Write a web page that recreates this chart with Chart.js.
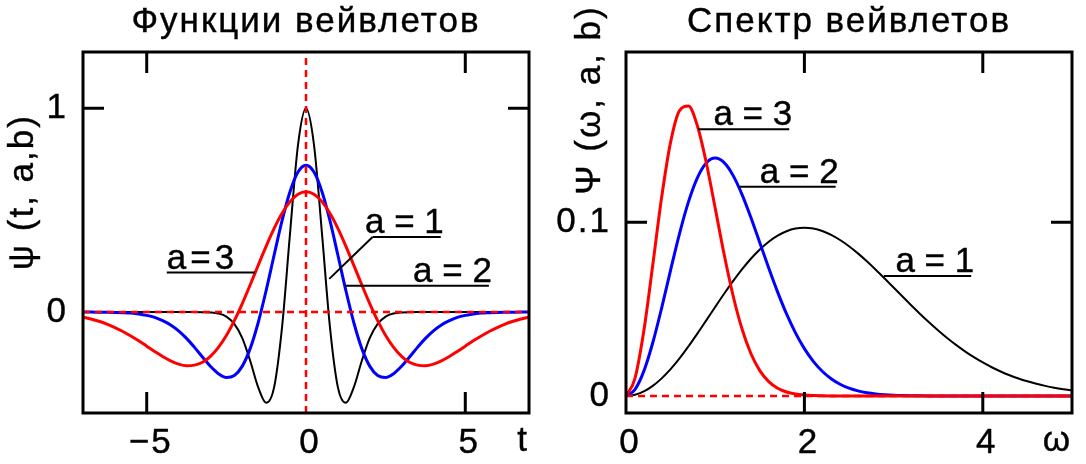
<!DOCTYPE html>
<html><head><meta charset="utf-8">
<script src="https://cdn.jsdelivr.net/npm/chart.js@4.4.1/dist/chart.umd.min.js"></script>
<style>
html,body{margin:0;padding:0;background:#fff;}
#wrap{position:relative;width:1086px;height:464px;overflow:hidden;}
.box{position:absolute;top:0;width:543px;height:464px;}
</style></head><body>
<div id="wrap">
<div class="box" style="left:0"><canvas id="c1" width="543" height="464"></canvas></div>
<div class="box" style="left:543px"><canvas id="c2" width="543" height="464"></canvas></div>
</div>
<script>
// ---------- data: wavelet functions ----------
const tValues = [-7,-6.75,-6.5,-6.25,-6,-5.75,-5.5,-5.25,-5,-4.75,-4.5,-4.25,-4,-3.75,-3.5,-3.25,-3,-2.75,-2.5,-2.25,-2,-1.75,-1.5,-1.25,-1,-0.75,-0.5,-0.25,0,0.25,0.5,0.75,1,1.25,1.5,1.75,2,2.25,2.5,2.75,3,3.25,3.5,3.75,4,4.25,4.5,4.75,5,5.25,5.5,5.75,6,6.25,6.5,6.75,7];
const psiA1 = [0,0,0,0,0,0,0,0,0,0,0,0,0,0,0,-0.0005,-0.002,-0.007,-0.022,-0.058,-0.128,-0.240,-0.369,-0.445,-0.368,-0.071,0.389,0.822,1,0.822,0.389,-0.071,-0.368,-0.445,-0.369,-0.240,-0.128,-0.058,-0.022,-0.007,-0.002,-0.0005,0,0,0,0,0,0,0,0,0,0,0,0,0,0,0];
const psiA2 = [0,-0.0001,-0.0004,-0.0007,-0.0015,-0.003,-0.005,-0.009,-0.016,-0.026,-0.042,-0.063,-0.092,-0.129,-0.173,-0.220,-0.266,-0.302,-0.321,-0.311,-0.265,-0.178,-0.051,0.107,0.280,0.450,0.592,0.687,0.72,0.687,0.592,0.450,0.280,0.107,-0.051,-0.178,-0.265,-0.311,-0.321,-0.302,-0.266,-0.220,-0.173,-0.129,-0.092,-0.063,-0.042,-0.026,-0.016,-0.009,-0.005,-0.003,-0.0015,-0.0007,-0.0004,-0.0001,0];
const psiA3 = [-0.025,-0.034,-0.045,-0.059,-0.076,-0.095,-0.117,-0.141,-0.167,-0.193,-0.218,-0.239,-0.255,-0.263,-0.260,-0.246,-0.217,-0.173,-0.115,-0.042,0.042,0.134,0.230,0.324,0.411,0.485,0.542,0.578,0.590,0.578,0.542,0.485,0.411,0.324,0.230,0.134,0.042,-0.042,-0.115,-0.173,-0.217,-0.246,-0.260,-0.263,-0.255,-0.239,-0.218,-0.193,-0.167,-0.141,-0.117,-0.095,-0.076,-0.059,-0.045,-0.034,-0.025];
const tTicks = [-5, 0, 5];
const tTickLabels = ["\u22125", "0", "5"];
const psiTicks = [0, 1];
const psiTickLabels = ["0", "1"];

// ---------- data: wavelet spectra ----------
const omega = [0,0.1,0.2,0.3,0.4,0.5,0.6,0.7,0.8,0.9,1,1.1,1.2,1.3,1.4,1.5,1.6,1.7,1.8,1.9,2,2.1,2.2,2.3,2.4,2.5,2.6,2.7,2.8,2.9,3,3.1,3.2,3.3,3.4,3.5,3.6,3.7,3.8,3.9,4,4.1,4.2,4.3,4.4,4.5,4.6,4.7,4.8,4.9,5];
const specA1 = [0,0.00066,0.00261,0.00579,0.01012,0.01545,0.02165,0.02853,0.03589,0.04353,0.05125,0.05883,0.06611,0.07288,0.07901,0.08436,0.08882,0.09233,0.09484,0.09635,0.09683,0.09636,0.09497,0.09275,0.08980,0.08620,0.08208,0.07753,0.07267,0.06760,0.06242,0.05722,0.05208,0.04708,0.04228,0.03770,0.03339,0.02939,0.02570,0.02233,0.01928,0.01654,0.01411,0.01196,0.01007,0.00844,0.00702,0.00581,0.00478,0.00391,0.00318];
const specA2 = [0,0.00369,0.01430,0.03062,0.05075,0.07247,0.09348,0.11173,0.12561,0.13412,0.13693,0.13430,0.12699,0.11607,0.10276,0.08827,0.07365,0.05979,0.04722,0.03635,0.02727,0.01995,0.01424,0.00993,0.00676,0.00449,0.00292,0.00185,0.00115,0.00070,0.00041,0.00024,0.00014,0.00008,0.00004,0.00002,0.00001,0,0,0,0,0,0,0,0,0,0,0,0,0,0];
const specA3 = [0,0.01003,0.03750,0.07539,0.11450,0.14611,0.16427,0.16690,0.15553,0.13428,0.10811,0.08154,0.05784,0.03867,0.02444,0.01461,0.00827,0.00445,0.00227,0.00110,0.00051,0.00022,0.00009,0.00004,0.00001,0,0,0,0,0,0,0,0,0,0,0,0,0,0,0,0,0,0,0,0,0,0,0,0,0,0];
const omegaTicks = [0, 2, 4];
const omegaTickLabels = ["0", "2", "4"];
const specTicks = [0, 0.1];
const specTickLabels = ["0", "0.1"];

// ---------- styling / layout ----------
const FONT_FAMILY = '"Liberation Sans", Arial, sans-serif';
const FONT_SIZE = 35;
const TEXT_STROKE = 0.4;
const RED = '#ff0000', BLUE = '#0000ff', BLACK = '#000000';

function pts(xs, ys) { return xs.map((x, i) => ({ x: x, y: ys[i] })); }

function decoPlugin(cfg) {
  return {
    id: 'deco',
    beforeDraw(chart) { chart.ctx.letterSpacing = cfg.spacing; },
    afterDatasetsDraw(chart) {
      const ctx = chart.ctx, a = chart.chartArea, xs = chart.scales.x, ys = chart.scales.y;
      const seg = (x1, y1, x2, y2) => { ctx.beginPath(); ctx.moveTo(x1, y1); ctx.lineTo(x2, y2); ctx.stroke(); };
      const txt = (s, x, y) => { ctx.fillText(s, x, y); ctx.lineWidth = TEXT_STROKE; ctx.strokeText(s, x, y); };
      ctx.save();
      ctx.letterSpacing = cfg.spacing;
      // marker lines
      ctx.strokeStyle = RED; ctx.lineWidth = 2.5; ctx.setLineDash([7, 5]);
      cfg.markX.forEach(v => { const p = xs.getPixelForValue(v); seg(p, a.top + 6, p, a.bottom); });
      cfg.markY.forEach(v => { const p = ys.getPixelForValue(v); seg(a.left, p, a.right, p); });
      ctx.setLineDash([]);
      // frame
      ctx.strokeStyle = BLACK; ctx.lineWidth = 3;
      ctx.strokeRect(a.left, a.top, a.right - a.left, a.bottom - a.top);
      const L = 21;
      cfg.tickX.filter(v => v !== 0).forEach(v => {
        const p = xs.getPixelForValue(v);
        seg(p, a.top, p, a.top + L); seg(p, a.bottom, p, a.bottom - L);
      });
      cfg.tickY.filter(v => v !== 0).forEach(v => {
        const p = ys.getPixelForValue(v);
        seg(a.left, p, a.left + L, p); seg(a.right, p, a.right - L, p);
      });
      // annotations
      ctx.font = FONT_SIZE + 'px ' + FONT_FAMILY;
      ctx.fillStyle = BLACK; ctx.textBaseline = 'alphabetic';
      cfg.notes.forEach(n => {
        const px0 = xs.getPixelForValue(n.x0), px1 = xs.getPixelForValue(n.x1), py = ys.getPixelForValue(n.y);
        ctx.lineWidth = 2;
        seg(px0, py, px1, py);
        if (n.lead) seg(px0, py, xs.getPixelForValue(n.lead[0]), ys.getPixelForValue(n.lead[1]));
        ctx.letterSpacing = n.spacing;
        if (n.align === 'left') { ctx.textAlign = 'left'; txt(n.text, px0, py - 4); }
        else { ctx.textAlign = 'right'; txt(n.text, px1 + 3, py - 4); }
      });
      ctx.letterSpacing = cfg.spacing;
      // title
      ctx.textAlign = 'center';
      txt(cfg.title, (a.left + a.right) / 2, 32);
      // x axis name
      ctx.textAlign = 'right';
      txt(cfg.xName, a.right, 451);
      // y axis name (rotated)
      ctx.save();
      ctx.translate(cfg.yNamePos[0], cfg.yNamePos[1]);
      ctx.rotate(-Math.PI / 2);
      ctx.textAlign = 'center';
      txt(cfg.yName, 0, 0);
      ctx.restore();
      ctx.restore();
    }
  };
}

function makeChart(id, c) {
  const tickFont = { family: FONT_FAMILY, size: FONT_SIZE };
  return new Chart(document.getElementById(id), {
    type: 'line',
    data: { datasets: c.datasets },
    options: {
      responsive: false, animation: false, events: [],
      layout: { padding: { top: 52, right: 14, left: 0, bottom: 0 } },
      plugins: { legend: { display: false }, tooltip: { enabled: false }, title: { display: false } },
      elements: { point: { radius: 0 }, line: { cubicInterpolationMode: 'monotone' } },
      scales: {
        x: {
          type: 'linear', min: c.xMin, max: c.xMax,
          afterBuildTicks: s => { s.ticks = c.xTicks.map(v => ({ value: v })); },
          afterFit: s => { s.height = 51; },
          grid: { display: false }, border: { display: false },
          ticks: { color: BLACK, font: tickFont, padding: 1, labelOffset: 4,
                   textStrokeColor: BLACK, textStrokeWidth: TEXT_STROKE,
                   maxRotation: 0, autoSkip: false, callback: (v, i) => c.xLabels[i] }
        },
        y: {
          type: 'linear', min: c.yMin, max: c.yMax,
          afterBuildTicks: s => { s.ticks = c.yTicks.map(v => ({ value: v })); },
          afterFit: s => { s.width = 83; },
          grid: { display: false }, border: { display: false },
          ticks: { color: BLACK, font: tickFont, padding: 7,
                   textStrokeColor: BLACK, textStrokeWidth: TEXT_STROKE,
                   autoSkip: false, callback: (v, i) => c.yLabels[i] }
        }
      }
    },
    plugins: [decoPlugin(c.deco)]
  });
}

makeChart('c1', {
  xMin: -7, xMax: 7, yMin: -0.495, yMax: 1.276,
  xTicks: tTicks, xLabels: tTickLabels, yTicks: psiTicks, yLabels: psiTickLabels,
  datasets: [
    { data: pts(tValues, psiA3), borderColor: RED, borderWidth: 3 },
    { data: pts(tValues, psiA2), borderColor: BLUE, borderWidth: 3 },
    { data: pts(tValues, psiA1), borderColor: BLACK, borderWidth: 2 }
  ],
  deco: {
    spacing: '2px', title: 'Функции вейвлетов', xName: 't', yName: 'ψ (t, a,b)', yNamePos: [33, 192],
    markX: [0], markY: [0], tickX: tTicks, tickY: psiTicks,
    notes: [
      { text: 'a=3', x0: -4.37, x1: -1.60, y: 0.194, align: 'left', spacing: '4px' },
      { text: 'a = 1', x0: 2.09, x1: 4.23, y: 0.368, align: 'right', lead: [0.73, 0.163], spacing: '0px' },
      { text: 'a = 2', x0: 1.22, x1: 5.74, y: 0.129, align: 'right', spacing: '0px' }
    ]
  }
});

makeChart('c2', {
  xMin: 0, xMax: 5, yMin: -0.0098, yMax: 0.198,
  xTicks: omegaTicks, xLabels: omegaTickLabels, yTicks: specTicks, yLabels: specTickLabels,
  datasets: [
    { data: pts(omega, specA3), borderColor: RED, borderWidth: 3 },
    { data: pts(omega, specA2), borderColor: BLUE, borderWidth: 3 },
    { data: pts(omega, specA1), borderColor: BLACK, borderWidth: 2 }
  ],
  deco: {
    spacing: '2px', title: 'Спектр вейвлетов', xName: 'ω', yName: 'Ψ (ω, a, b)', yNamePos: [57, 100],
    markX: [], markY: [0], tickX: omegaTicks, tickY: specTicks,
    notes: [
      { text: 'a = 3', x0: 0.81, x1: 1.83, y: 0.1535, align: 'right', spacing: '0px' },
      { text: 'a = 2', x0: 1.27, x1: 2.35, y: 0.1205, align: 'right', spacing: '0px' },
      { text: 'a = 1', x0: 2.89, x1: 3.87, y: 0.0691, align: 'right', spacing: '0px' }
    ]
  }
});
</script>
</body></html>
